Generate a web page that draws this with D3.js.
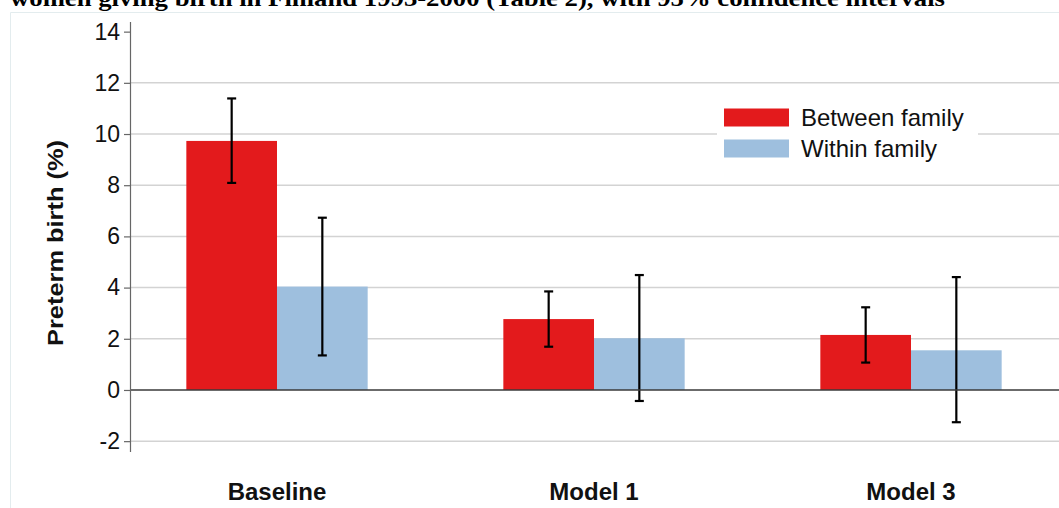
<!DOCTYPE html>
<html>
<head>
<meta charset="utf-8">
<script src="https://cdn.jsdelivr.net/npm/d3@7"></script>
<style>
  html, body { margin: 0; padding: 0; background: #fff; overflow: hidden; }
  svg { display: block; }
</style>
</head>
<body>
<svg id="chart" width="1059" height="508"></svg>
<script>
const categories = ["Baseline", "Model 1", "Model 3"];
const seriesNames = ["Between family", "Within family"];
const betweenValues = [9.73, 2.77, 2.15];
const betweenLower = [8.09, 1.69, 1.07];
const betweenUpper = [11.39, 3.85, 3.23];
const withinValues = [4.04, 2.02, 1.55];
const withinLower = [1.35, -0.43, -1.26];
const withinUpper = [6.73, 4.49, 4.41];
const yTicks = [-2, 0, 2, 4, 6, 8, 10, 12, 14];
const gridTicks = [-2, 2, 4, 6, 8, 10, 12];
const colors = ["#e31a1c", "#9ebfde"];
const titleText = "women giving birth in Finland 1993-2000 (Table 2), with 95% confidence intervals";
const yLabel = "Preterm birth (%)";

const svg = d3.select("#chart");
const W = 1059, H = 508;

const y = d3.scaleLinear().domain([-2.4, 14.4]).range([451.4, 21.4]);
const x0 = d3.scaleBand().domain(categories).range([118.5, 1069.5])
  .paddingInner(0.428).paddingOuter(0.214);
const x1 = d3.scaleBand().domain(seriesNames).range([0, x0.bandwidth()]).padding(0);

const data = categories.map((c, i) => ({
  cat: c,
  vals: [
    { s: seriesNames[0], v: betweenValues[i], lo: betweenLower[i], hi: betweenUpper[i], c: colors[0] },
    { s: seriesNames[1], v: withinValues[i], lo: withinLower[i], hi: withinUpper[i], c: colors[1] }
  ]
}));

// panel border
svg.append("path")
  .attr("d", `M10.5,${H} V12.5 H${W}`)
  .attr("fill", "none").attr("stroke", "#e3ecee").attr("stroke-width", 1);

// title (clipped at top, as in the source image)
svg.append("text")
  .attr("x", 10).attr("y", 6)
  .attr("font-family", "Liberation Serif, Times New Roman, serif")
  .attr("font-weight", "bold").attr("font-size", 23)
  .attr("textLength", 935).attr("lengthAdjust", "spacingAndGlyphs")
  .attr("fill", "#000")
  .text(titleText);

const axisX = 130;

// gridlines
svg.append("g").selectAll("line").data(gridTicks).join("line")
  .attr("x1", axisX).attr("x2", W)
  .attr("y1", d => y(d)).attr("y2", d => y(d))
  .attr("stroke", "#d3d3d3").attr("stroke-width", 1.5);

// bars
const groups = svg.append("g").selectAll("g").data(data).join("g")
  .attr("transform", d => `translate(${x0(d.cat)},0)`);

groups.selectAll("rect").data(d => d.vals).join("rect")
  .attr("x", d => x1(d.s))
  .attr("width", x1.bandwidth())
  .attr("y", d => y(Math.max(0, d.v)))
  .attr("height", d => Math.abs(y(d.v) - y(0)))
  .attr("fill", d => d.c);

// zero line
svg.append("line")
  .attr("x1", axisX).attr("x2", W)
  .attr("y1", y(0)).attr("y2", y(0))
  .attr("stroke", "#3a3a3a").attr("stroke-width", 1.5);

// error bars
const eb = groups.selectAll("g.err").data(d => d.vals).join("g").attr("class", "err");
const cx = d => x1(d.s) + x1.bandwidth() / 2;
eb.append("line")
  .attr("x1", cx).attr("x2", cx)
  .attr("y1", d => y(d.lo)).attr("y2", d => y(d.hi))
  .attr("stroke", "#000").attr("stroke-width", 2.2);
eb.append("line")
  .attr("x1", d => cx(d) - 4.5).attr("x2", d => cx(d) + 4.5)
  .attr("y1", d => y(d.hi)).attr("y2", d => y(d.hi))
  .attr("stroke", "#000").attr("stroke-width", 2.2);
eb.append("line")
  .attr("x1", d => cx(d) - 4.5).attr("x2", d => cx(d) + 4.5)
  .attr("y1", d => y(d.lo)).attr("y2", d => y(d.lo))
  .attr("stroke", "#000").attr("stroke-width", 2.2);

// y axis
const yAxis = d3.axisLeft(y).tickValues(yTicks).tickSizeInner(6).tickSizeOuter(0).tickPadding(4)
  .tickFormat(d => String(d));
const ga = svg.append("g").attr("transform", `translate(${axisX},0)`).call(yAxis);
ga.select(".domain").attr("stroke", "#666").attr("stroke-width", 1.2);
ga.selectAll(".tick line").attr("stroke", "#666").attr("stroke-width", 1.2);
ga.selectAll(".tick text")
  .attr("font-family", "Liberation Sans, Arial, sans-serif")
  .attr("font-size", 23).attr("fill", "#111");

// y label
svg.append("text")
  .attr("transform", `translate(63,243) rotate(-90)`)
  .attr("text-anchor", "middle")
  .attr("font-family", "Liberation Sans, Arial, sans-serif")
  .attr("font-weight", "bold").attr("font-size", 22)
  .attr("textLength", 206).attr("lengthAdjust", "spacingAndGlyphs")
  .attr("fill", "#111")
  .text(yLabel);

// x labels
svg.append("g").selectAll("text").data(categories).join("text")
  .attr("x", d => x0(d) + x0.bandwidth() / 2)
  .attr("y", 499.5)
  .attr("text-anchor", "middle")
  .attr("font-family", "Liberation Sans, Arial, sans-serif")
  .attr("font-weight", "bold").attr("font-size", 24)
  .attr("fill", "#111")
  .text(d => d);

// legend
const lg = svg.append("g");
lg.append("rect").attr("x", 717).attr("y", 100).attr("width", 261).attr("height", 66).attr("fill", "#fff");
const items = lg.selectAll("g").data(seriesNames).join("g")
  .attr("transform", (d, i) => `translate(724,${108.5 + i * 31})`);
items.append("rect").attr("width", 65).attr("height", 18)
  .attr("fill", (d, i) => colors[i]);
items.append("text").attr("x", 77).attr("y", 17)
  .attr("font-family", "Liberation Sans, Arial, sans-serif")
  .attr("font-size", 24).attr("fill", "#111")
  .text(d => d);
</script>
</body>
</html>
